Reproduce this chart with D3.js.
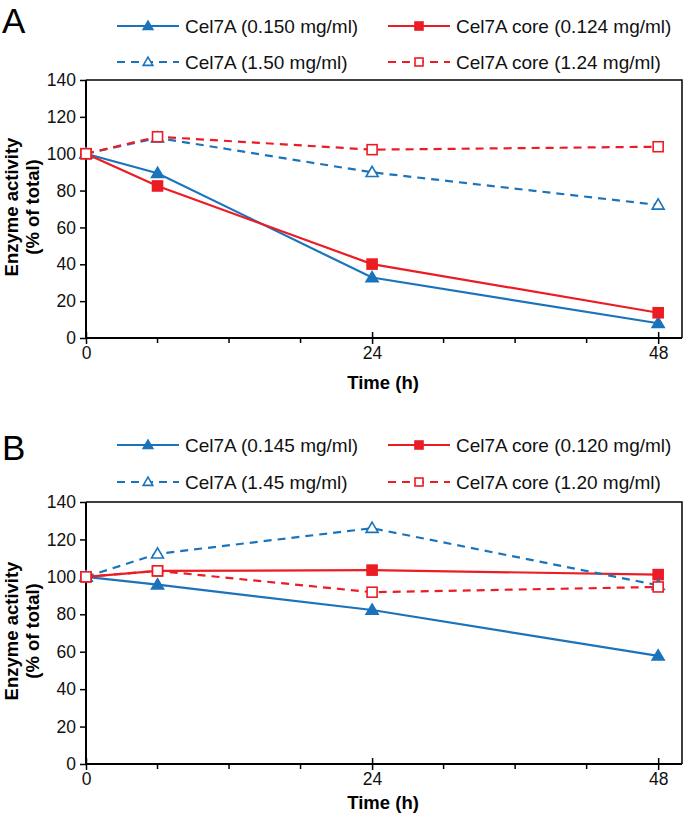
<!DOCTYPE html>
<html>
<head>
<meta charset="utf-8">
<script src="https://cdn.jsdelivr.net/npm/d3@7"></script>
<style>
  html, body { margin: 0; padding: 0; background: #fff; }
  svg { display: block; font-family: "Liberation Sans", Arial, Helvetica, sans-serif; }
</style>
</head>
<body>
<svg id="chart" width="685" height="816"></svg>
<script>
// ---- Data ----
const times = [0, 6, 24, 48];
const xTickLabels = [0, 24, 48];
const xMinorTicks = [6, 12, 18, 30, 36, 42];
const yTicks = [0, 20, 40, 60, 80, 100, 120, 140];

// Panel A
const aCel7aLow  = [100, 89.4, 32.8, 8.0];
const aCoreLow   = [100, 82.5, 40.1, 13.7];
const aCel7aHigh = [100, 108.6, 89.9, 72.2];
const aCoreHigh  = [100, 109.2, 102.2, 103.8];
const aLabels = ["Cel7A (0.150 mg/ml)", "Cel7A core (0.124 mg/ml)", "Cel7A (1.50 mg/ml)", "Cel7A core (1.24 mg/ml)"];

// Panel B
const bCel7aLow  = [100, 95.8, 82.3, 57.8];
const bCoreLow   = [100, 103.2, 103.6, 101.2];
const bCel7aHigh = [100, 112.3, 126.0, 95.5];
const bCoreHigh  = [100, 103.2, 91.8, 94.6];
const bLabels = ["Cel7A (0.145 mg/ml)", "Cel7A core (0.120 mg/ml)", "Cel7A (1.45 mg/ml)", "Cel7A core (1.20 mg/ml)"];

const BLUE = "#1b74bb";
const RED = "#ec1c24";

const svg = d3.select("#chart");

function drawPanel(cfg) {
  const { letter, top, bottom, series, labels, legendY1, legendY2, titleOffset } = cfg;
  const left = 86, right = 682;
  const x = d3.scaleLinear().domain([0, 50]).range([left, right]);
  const y = d3.scaleLinear().domain([0, 140]).range([bottom, top]);
  const g = svg.append("g");

  // Panel letter
  g.append("text").attr("x", 2).attr("y", letter.y).attr("font-size", 35)
    .attr("fill", "#000").text(letter.t);

  // Box (top & right)
  g.append("path")
    .attr("d", `M${left},${top}H${right}V${bottom}`)
    .attr("fill", "none").attr("stroke", "#000").attr("stroke-width", 1.5);

  // Y axis
  const yAxis = d3.axisLeft(y).tickValues(yTicks).tickSize(6).tickPadding(4).tickFormat(d3.format("d"));
  const yg = g.append("g").attr("transform", `translate(${left},0)`).call(yAxis);
  yg.select(".domain").attr("stroke-width", 2).attr("d", `M0,${top}V${bottom}`);
  yg.selectAll(".tick line").attr("stroke-width", 1.5);
  yg.selectAll(".tick text").attr("font-size", 17.5).attr("font-family", "Liberation Sans, Arial, sans-serif").attr("fill", "#111");

  // X axis (major)
  const xAxis = d3.axisBottom(x).tickValues(xTickLabels).tickSize(6).tickPadding(3).tickFormat(d3.format("d"));
  const xg = g.append("g").attr("transform", `translate(0,${bottom})`).call(xAxis);
  xg.select(".domain").attr("stroke-width", 2).attr("d", `M${left},0H${right}`);
  xg.selectAll(".tick line").attr("stroke-width", 1.5).attr("y1", -6);
  xg.selectAll(".tick text").attr("font-size", 17.5).attr("font-family", "Liberation Sans, Arial, sans-serif").attr("fill", "#111");
  // minor ticks
  g.append("g").selectAll("line").data(xMinorTicks).join("line")
    .attr("x1", d => x(d)).attr("x2", d => x(d))
    .attr("y1", bottom).attr("y2", bottom + 5)
    .attr("stroke", "#000").attr("stroke-width", 1.5);

  // Axis titles
  g.append("text").attr("x", x(24) + 11).attr("y", bottom + titleOffset)
    .attr("text-anchor", "middle").attr("font-size", 18.5).attr("font-weight", "bold").text("Time (h)");
  const cy = (top + bottom) / 2 - 2;
  const yl = g.append("text").attr("transform", `translate(0,${cy}) rotate(-90)`)
    .attr("text-anchor", "middle").attr("font-size", 18.5).attr("font-weight", "bold");
  yl.append("tspan").attr("x", 0).attr("y", 18).text("Enzyme activity");
  yl.append("tspan").attr("x", 0).attr("y", 39).text("(% of total)");

  // Series
  const line = d3.line().x((d, i) => x(times[i])).y(d => y(d));
  series.forEach(s => {
    const sg = g.append("g");
    sg.append("path").datum(s.values).attr("d", line)
      .attr("fill", "none").attr("stroke", s.color).attr("stroke-width", 2.2)
      .attr("stroke-dasharray", s.dashed ? "8,6" : null);
    s.values.forEach((v, i) => drawMarker(sg, x(times[i]), y(v), s));
  });

  // Legend
  const cols = [117, 388];
  const rows = [legendY1, legendY2];
  series.forEach((s, k) => {
    const cx = cols[k % 2], ry = rows[Math.floor(k / 2)];
    const lg = g.append("g");
    lg.append("line").attr("x1", cx).attr("x2", cx + 62).attr("y1", ry).attr("y2", ry)
      .attr("stroke", s.color).attr("stroke-width", 2.2)
      .attr("stroke-dasharray", s.dashed ? "8,6" : null);
    drawMarker(lg, cx + 31, ry, s, 0.8);
    lg.append("text").attr("x", cx + 68).attr("y", ry).attr("dy", "0.36em")
      .attr("font-size", 19).attr("fill", "#111").text(labels[k]);
  });
}

function drawMarker(g, cx, cy, s, scale = 1) {
  const fill = s.open ? "#fff" : s.color;
  if (s.shape === "tri") {
    const r = 6 * scale;
    g.append("path")
      .attr("d", `M${cx},${cy - r}L${cx + r},${cy + r * 0.7}L${cx - r},${cy + r * 0.7}Z`)
      .attr("fill", fill).attr("stroke", s.color).attr("stroke-width", 1.6);
  } else {
    const h = 5 * scale;
    g.append("rect").attr("x", cx - h).attr("y", cy - h).attr("width", 2 * h).attr("height", 2 * h)
      .attr("fill", fill).attr("stroke", s.color).attr("stroke-width", 1.6);
  }
}

drawPanel({
  letter: { t: "A", y: 33 },
  top: 80, bottom: 338, titleOffset: 51,
  legendY1: 26, legendY2: 62,
  labels: aLabels,
  series: [
    { values: aCel7aLow, color: BLUE, dashed: false, shape: "tri", open: false },
    { values: aCoreLow, color: RED, dashed: false, shape: "sq", open: false },
    { values: aCel7aHigh, color: BLUE, dashed: true, shape: "tri", open: true },
    { values: aCoreHigh, color: RED, dashed: true, shape: "sq", open: true }
  ]
});

drawPanel({
  letter: { t: "B", y: 460 },
  top: 502, bottom: 764, titleOffset: 45,
  legendY1: 445, legendY2: 482,
  labels: bLabels,
  series: [
    { values: bCel7aLow, color: BLUE, dashed: false, shape: "tri", open: false },
    { values: bCoreLow, color: RED, dashed: false, shape: "sq", open: false },
    { values: bCel7aHigh, color: BLUE, dashed: true, shape: "tri", open: true },
    { values: bCoreHigh, color: RED, dashed: true, shape: "sq", open: true }
  ]
});
</script>
</body>
</html>
